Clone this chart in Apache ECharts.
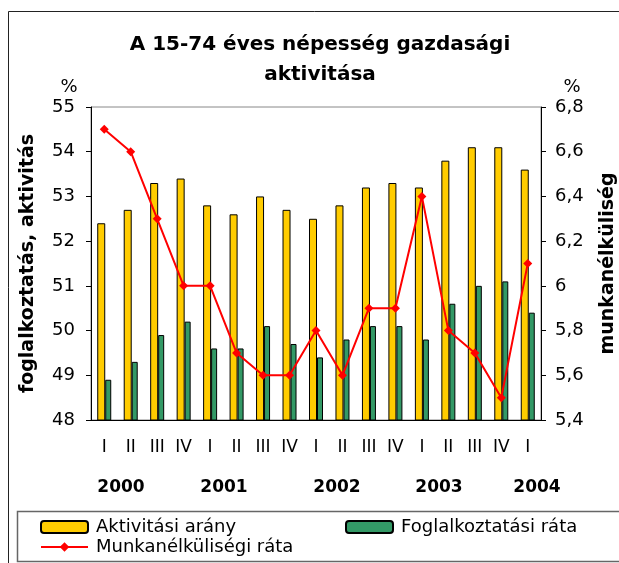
<!DOCTYPE html>
<html>
<head>
<meta charset="utf-8">
<script src="https://cdn.jsdelivr.net/npm/echarts@6/dist/echarts.min.js"></script>
<style>
    html, body { margin: 0; padding: 0; background: #fff; }
    #chart { width: 619px; height: 563px; }
</style>
</head>
<body>
<div id="chart"></div>
<script>
const chart = echarts.init(document.getElementById("chart"));

// negyedévek (2000 I - 2004 I)
const quarters = ["I", "II", "III", "IV", "I", "II", "III", "IV", "I", "II", "III", "IV", "I", "II", "III", "IV", "I"];
const years = ["2000", "2001", "2002", "2003", "2004"];
const yearX = [121, 224, 337, 439, 537];

const aktivitas = [52.4, 52.7, 53.3, 53.4, 52.8, 52.6, 53.0, 52.7, 52.5, 52.8, 53.2, 53.3, 53.2, 53.8, 54.1, 54.1, 53.6];
const foglalkoztatas = [48.9, 49.3, 49.9, 50.2, 49.6, 49.6, 50.1, 49.7, 49.4, 49.8, 50.1, 50.1, 49.8, 50.6, 51.0, 51.1, 50.4];
const munkanelkuliseg = [6.7, 6.6, 6.3, 6.0, 6.0, 5.7, 5.6, 5.6, 5.8, 5.6, 5.9, 5.9, 6.4, 5.8, 5.7, 5.5, 6.1];

const FONT = "DejaVu Sans";

function comma(v) {
    return String(+Number(v).toFixed(1)).replace(".", ",");
}

const legendBase = {
    orient: "horizontal",
    padding: 0,
    itemWidth: 47,
    itemHeight: 12,
    textStyle: { fontFamily: FONT, fontSize: 18, color: "#000", padding: [0, 0, 0, 3] }
};

const option = {
    animation: false,
    backgroundColor: "#fff",
    title: {
        text: "A 15-74 éves népesség gazdasági\naktivitása",
        left: 320,
        top: 30,
        padding: 0,
        textAlign: "center",
        textStyle: {
            fontFamily: FONT,
            fontSize: 20,
            fontWeight: "bold",
            lineHeight: 30,
            color: "#000"
        }
    },
    legend: [
        Object.assign({}, legendBase, { left: 40, top: 518, data: ["Aktivitási arány"] }),
        Object.assign({}, legendBase, { left: 345, top: 518, data: ["Foglalkoztatási ráta"] }),
        Object.assign({}, legendBase, { left: 40, top: 538, data: ["Munkanélküliségi ráta"] })
    ],
    grid: {
        left: 91,
        right: 78,
        top: 107,
        height: 313,
        outerBoundsMode: "none",
        containLabel: false,
        show: true,
        borderColor: "#888",
        borderWidth: 1,
        backgroundColor: "transparent"
    },
    xAxis: {
        type: "category",
        data: quarters,
        axisLine: { lineStyle: { color: "#000", width: 1 } },
        axisTick: { length: 5, lineStyle: { color: "#000" } },
        axisLabel: { fontFamily: FONT, fontSize: 17, color: "#000", margin: 19, interval: 0 }
    },
    yAxis: [
        {
            type: "value",
            min: 48,
            max: 55,
            interval: 1,
            name: "foglalkoztatás, aktivitás",
            nameLocation: "middle",
            nameRotate: 90,
            nameGap: 53,
            nameTextStyle: { fontFamily: FONT, fontSize: 19, fontWeight: "bold", color: "#000" },
            axisLine: { show: true, lineStyle: { color: "#000" } },
            axisTick: { show: true, length: 5, lineStyle: { color: "#000" } },
            splitLine: { show: false },
            axisLabel: { fontFamily: FONT, fontSize: 18, color: "#000", margin: 16 }
        },
        {
            type: "value",
            position: "right",
            min: 5.4,
            max: 6.8,
            interval: 0.2,
            name: "munkanélküliség",
            nameLocation: "middle",
            nameRotate: 90,
            nameGap: 58,
            nameTextStyle: { fontFamily: FONT, fontSize: 19, fontWeight: "bold", color: "#000" },
            axisLine: { show: true, lineStyle: { color: "#000" } },
            axisTick: { show: true, length: 5, lineStyle: { color: "#000" } },
            splitLine: { show: false },
            axisLabel: { fontFamily: FONT, fontSize: 18, color: "#000", margin: 14, formatter: comma }
        }
    ],
    series: [
        {
            name: "Aktivitási arány",
            type: "bar",
            yAxisIndex: 0,
            barWidth: 8,
            barGap: "0%",
            itemStyle: { color: "#FFCC00", borderColor: "#000", borderWidth: 1 },
            data: aktivitas
        },
        {
            name: "Foglalkoztatási ráta",
            type: "bar",
            yAxisIndex: 0,
            barWidth: 6,
            barGap: "0%",
            itemStyle: { color: "#339966", borderColor: "#000", borderWidth: 1 },
            data: foglalkoztatas
        },
        {
            name: "Munkanélküliségi ráta",
            type: "line",
            yAxisIndex: 1,
            symbol: "diamond",
            symbolSize: 9,
            lineStyle: { color: "#FF0000", width: 2 },
            itemStyle: { color: "#FF0000" },
            z: 5,
            data: munkanelkuliseg
        }
    ],
    graphic: [
        {
            type: "rect",
            silent: true,
            shape: { x: 8.5, y: 11.5, width: 700, height: 700 },
            style: { fill: "none", stroke: "#222", lineWidth: 1 }
        },
        {
            type: "rect",
            silent: true,
            shape: { x: 17.5, y: 511.5, width: 700, height: 50 },
            style: { fill: "none", stroke: "#666", lineWidth: 1.5 }
        },
        {
            type: "text",
            x: 69, y: 87,
            style: { text: "%", fontFamily: FONT, fontSize: 18, fill: "#000", align: "center", verticalAlign: "middle" }
        },
        {
            type: "text",
            x: 572, y: 87,
            style: { text: "%", fontFamily: FONT, fontSize: 18, fill: "#000", align: "center", verticalAlign: "middle" }
        }
    ].concat(years.map((y, i) => ({
        type: "text",
        x: yearX[i],
        y: 488,
        style: { text: y, fontFamily: FONT, fontSize: 17, fontWeight: "bold", fill: "#000", align: "center", verticalAlign: "middle" }
    })))
};

chart.setOption(option);
</script>
</body>
</html>
